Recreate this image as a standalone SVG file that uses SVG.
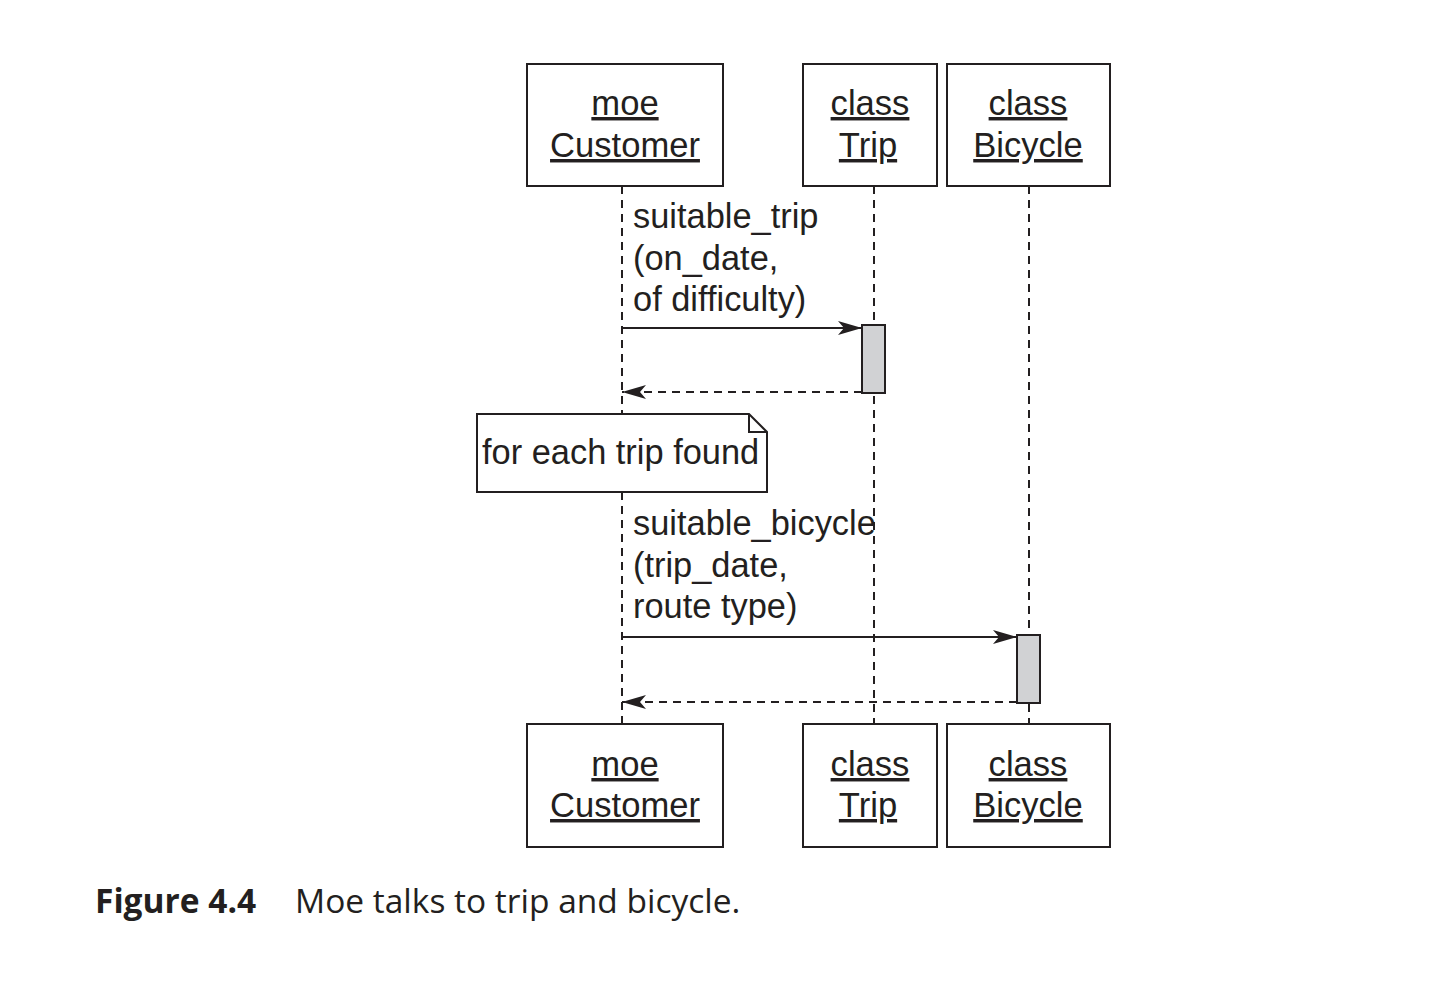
<svg xmlns="http://www.w3.org/2000/svg" width="1448" height="986" viewBox="0 0 1448 986">
<style>
.box{fill:#fff;stroke:#231f20;stroke-width:2}
.act{fill:#d1d2d4;stroke:#231f20;stroke-width:2}
.life{stroke:#231f20;stroke-width:2;stroke-dasharray:8 6;fill:none}
.msg{stroke:#231f20;stroke-width:2;fill:none}
.ret{stroke:#231f20;stroke-width:2;stroke-dasharray:8 6;fill:none}
.t{font-family:"Liberation Sans",Arial,sans-serif;font-size:34.4px;fill:#231f20}
.h{font-family:"Liberation Sans",Arial,sans-serif;font-size:34.6px;fill:#231f20;text-anchor:middle;text-decoration:underline}
.cap{font-family:"Open Sans","Noto Sans",sans-serif;font-size:33.5px;fill:#231f20}
</style>
<defs>
<marker id="ah" viewBox="0 0 24 14" refX="24" refY="7" markerWidth="24" markerHeight="14" markerUnits="userSpaceOnUse" orient="auto">
<path d="M0,0 L24,7 L0,14 L6,7 Z" fill="#231f20"/>
</marker>
</defs>
<g id="connectors">
<line class="life" x1="622" y1="186" x2="622" y2="414"/>
<line class="life" x1="622" y1="492" x2="622" y2="724"/>
<line class="life" x1="874" y1="186" x2="874" y2="724"/>
<line class="life" x1="1029" y1="186" x2="1029" y2="724"/>
<line class="msg" x1="622" y1="328" x2="862" y2="328" marker-end="url(#ah)"/>
<line class="ret" x1="862" y1="392" x2="622" y2="392" marker-end="url(#ah)"/>
<line class="msg" x1="622" y1="637" x2="1017" y2="637" marker-end="url(#ah)"/>
<line class="ret" x1="1017" y1="702" x2="622" y2="702" marker-end="url(#ah)"/>
</g>
<g id="act-trip"><rect class="act" x="862" y="325" width="23" height="68"/></g>
<g id="act-bicycle"><rect class="act" x="1017" y="635" width="23" height="68"/></g>
<g id="label-trip">
<text class="t" x="633" y="228">suitable_trip</text>
<text class="t" x="633" y="270">(on_date,</text>
<text class="t" x="633" y="311">of difficulty)</text>
</g>
<g id="label-bicycle">
<text class="t" x="633" y="535">suitable_bicycle</text>
<text class="t" x="633" y="577">(trip_date,</text>
<text class="t" x="633" y="618">route type)</text>
</g>
<g id="note">
<path class="box" d="M477,414 H749 L767,432 V492 H477 Z"/>
<path d="M749,414 V432 H767" fill="none" stroke="#231f20" stroke-width="2"/>
<text class="t" x="482" y="464">for each trip found</text>
</g>
<g id="customer-top">
<rect class="box" x="527" y="64" width="196" height="122"/>
<text class="h" x="625" y="115">moe</text>
<text class="h" x="625" y="157">Customer</text>
</g>
<g id="trip-top">
<rect class="box" x="803" y="64" width="134" height="122"/>
<text class="h" x="870" y="115">class</text>
<text class="h" x="868" y="157">Trip</text>
</g>
<g id="bicycle-top">
<rect class="box" x="947" y="64" width="163" height="122"/>
<text class="h" x="1028" y="115">class</text>
<text class="h" x="1028" y="157">Bicycle</text>
</g>
<g id="customer-bottom">
<rect class="box" x="527" y="724" width="196" height="123"/>
<text class="h" x="625" y="776">moe</text>
<text class="h" x="625" y="817">Customer</text>
</g>
<g id="trip-bottom">
<rect class="box" x="803" y="724" width="134" height="123"/>
<text class="h" x="870" y="776">class</text>
<text class="h" x="868" y="817">Trip</text>
</g>
<g id="bicycle-bottom">
<rect class="box" x="947" y="724" width="163" height="123"/>
<text class="h" x="1028" y="776">class</text>
<text class="h" x="1028" y="817">Bicycle</text>
</g>
<g id="caption">
<text class="cap" x="95" y="913" font-weight="bold">Figure 4.4</text>
<text class="cap" x="295" y="913">Moe talks to trip and bicycle.</text>
</g>
</svg>
